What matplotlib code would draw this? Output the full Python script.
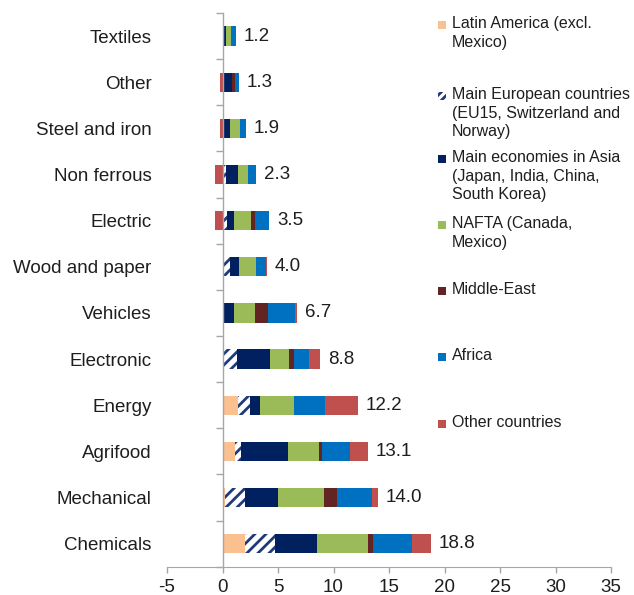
import numpy as np
import matplotlib
matplotlib.use('Agg')
import matplotlib.pyplot as plt
from matplotlib.patches import Rectangle

plt.rcParams['font.family'] = ['Liberation Sans', 'DejaVu Sans']
plt.rcParams['hatch.linewidth'] = 2.0
plt.rcParams['axes.unicode_minus'] = False

# Sectors, top to bottom
sectors = ["Textiles", "Other", "Steel and iron", "Non ferrous", "Electric",
           "Wood and paper", "Vehicles", "Electronic", "Energy", "Agrifood",
           "Mechanical", "Chemicals"]

# Contribution of each region per sector
latin   = [0.0, 0.0, 0.0, 0.0, 0.0, 0.0, 0.0, 0.1, 1.4, 1.1, 0.2, 2.0]
europe  = [0.1, 0.1, 0.1, 0.3, 0.4, 0.7, 0.0, 1.2, 1.1, 0.6, 1.8, 2.7]
asia    = [0.2, 0.8, 0.6, 1.1, 0.6, 0.8, 1.0, 3.0, 0.9, 4.2, 3.0, 3.8]
nafta   = [0.5, 0.0, 0.9, 0.9, 1.6, 1.5, 1.9, 1.7, 3.0, 2.8, 4.1, 4.6]
mideast = [0.0, 0.2, 0.0, 0.0, 0.3, 0.0, 1.2, 0.4, 0.0, 0.3, 1.2, 0.5]
africa  = [0.4, 0.4, 0.5, 0.7, 1.3, 0.9, 2.4, 1.4, 2.8, 2.5, 3.2, 3.5]
others  = [0.0, -0.2, -0.2, -0.7, -0.7, 0.1, 0.2, 1.0, 3.0, 1.6, 0.5, 1.7]

region_names = ["Latin America (excl.\nMexico)",
                "Main European countries\n(EU15, Switzerland and\nNorway)",
                "Main economies in Asia\n(Japan, India, China,\nSouth Korea)",
                "NAFTA (Canada,\nMexico)",
                "Middle-East",
                "Africa",
                "Other countries"]

series = [latin, europe, asia, nafta, mideast, africa, others]
colors = ["#FAC090", "white", "#002060", "#9BBB59", "#632523", "#0070C0", "#C0504D"]
hatches = [None, "///", None, None, None, None, None]
navy = "#1F3A7A"
text_color = "#1E1E1E"
axis_color = "#A6A6A6"

fig = plt.figure(figsize=(6.34, 5.95), dpi=100)
ax = fig.add_axes([167 / 634, (595 - 566.7) / 595, 444 / 634, 553.7 / 595])

y = np.arange(len(sectors))
pos_left = np.zeros(len(sectors))
neg_left = np.zeros(len(sectors))
for vals, col, hat in zip(series, colors, hatches):
    vals = np.array(vals)
    left = np.where(vals >= 0, pos_left, neg_left)
    ax.barh(y, vals, left=left, height=0.42, color=col,
            edgecolor=navy if hat else col, linewidth=0, hatch=hat)
    pos_left += np.clip(vals, 0, None)
    neg_left += np.clip(vals, None, 0)

# Net totals next to each bar
totals = np.sum(np.array(series), axis=0)
for yi, end, tot in zip(y, pos_left, totals):
    ax.text(end + 0.7, yi, f"{tot:.1f}", va='center', ha='left',
            fontsize=13.5, color=text_color)

ax.set_xlim(-5, 35)
ax.set_ylim(len(sectors) - 0.5, -0.5)
ax.set_xticks(np.arange(-5, 36, 5))
ax.set_yticks(y)
ax.set_yticklabels(sectors)
ax.tick_params(axis='y', length=0, pad=11, labelsize=13.5, labelcolor=text_color)
ax.tick_params(axis='x', length=4, width=1, color=axis_color, pad=5,
               labelsize=13.5, labelcolor=text_color)

for side in ['top', 'right', 'left']:
    ax.spines[side].set_visible(False)
ax.spines['bottom'].set_color(axis_color)

# Category axis at zero with ticks between sectors
bounds = np.arange(len(sectors) + 1) - 0.5
ax.plot(np.zeros_like(bounds), bounds, color=axis_color, lw=1,
        marker=0, markersize=5, markeredgewidth=1, clip_on=False)

# Legend drawn to the right of the bars
legend_y = [25, 96, 159, 225, 291, 357, 424]
for name, col, hat, ypx in zip(region_names, colors, hatches, legend_y):
    fy = 1 - ypx / 595
    box = Rectangle((438 / 634, fy - 4 / 595), 8 / 634, 8 / 595,
                    transform=fig.transFigure, facecolor=col,
                    edgecolor=navy if hat else col, linewidth=0,
                    hatch="////" if hat else None)
    fig.patches.append(box)
    fig.text(452 / 634, fy + 9 / 595, name, va='top', ha='left',
             fontsize=11.5, color=text_color, linespacing=1.3,
             family=['Liberation Sans Narrow', 'Liberation Sans'])

fig.savefig("out.png", dpi=100)
